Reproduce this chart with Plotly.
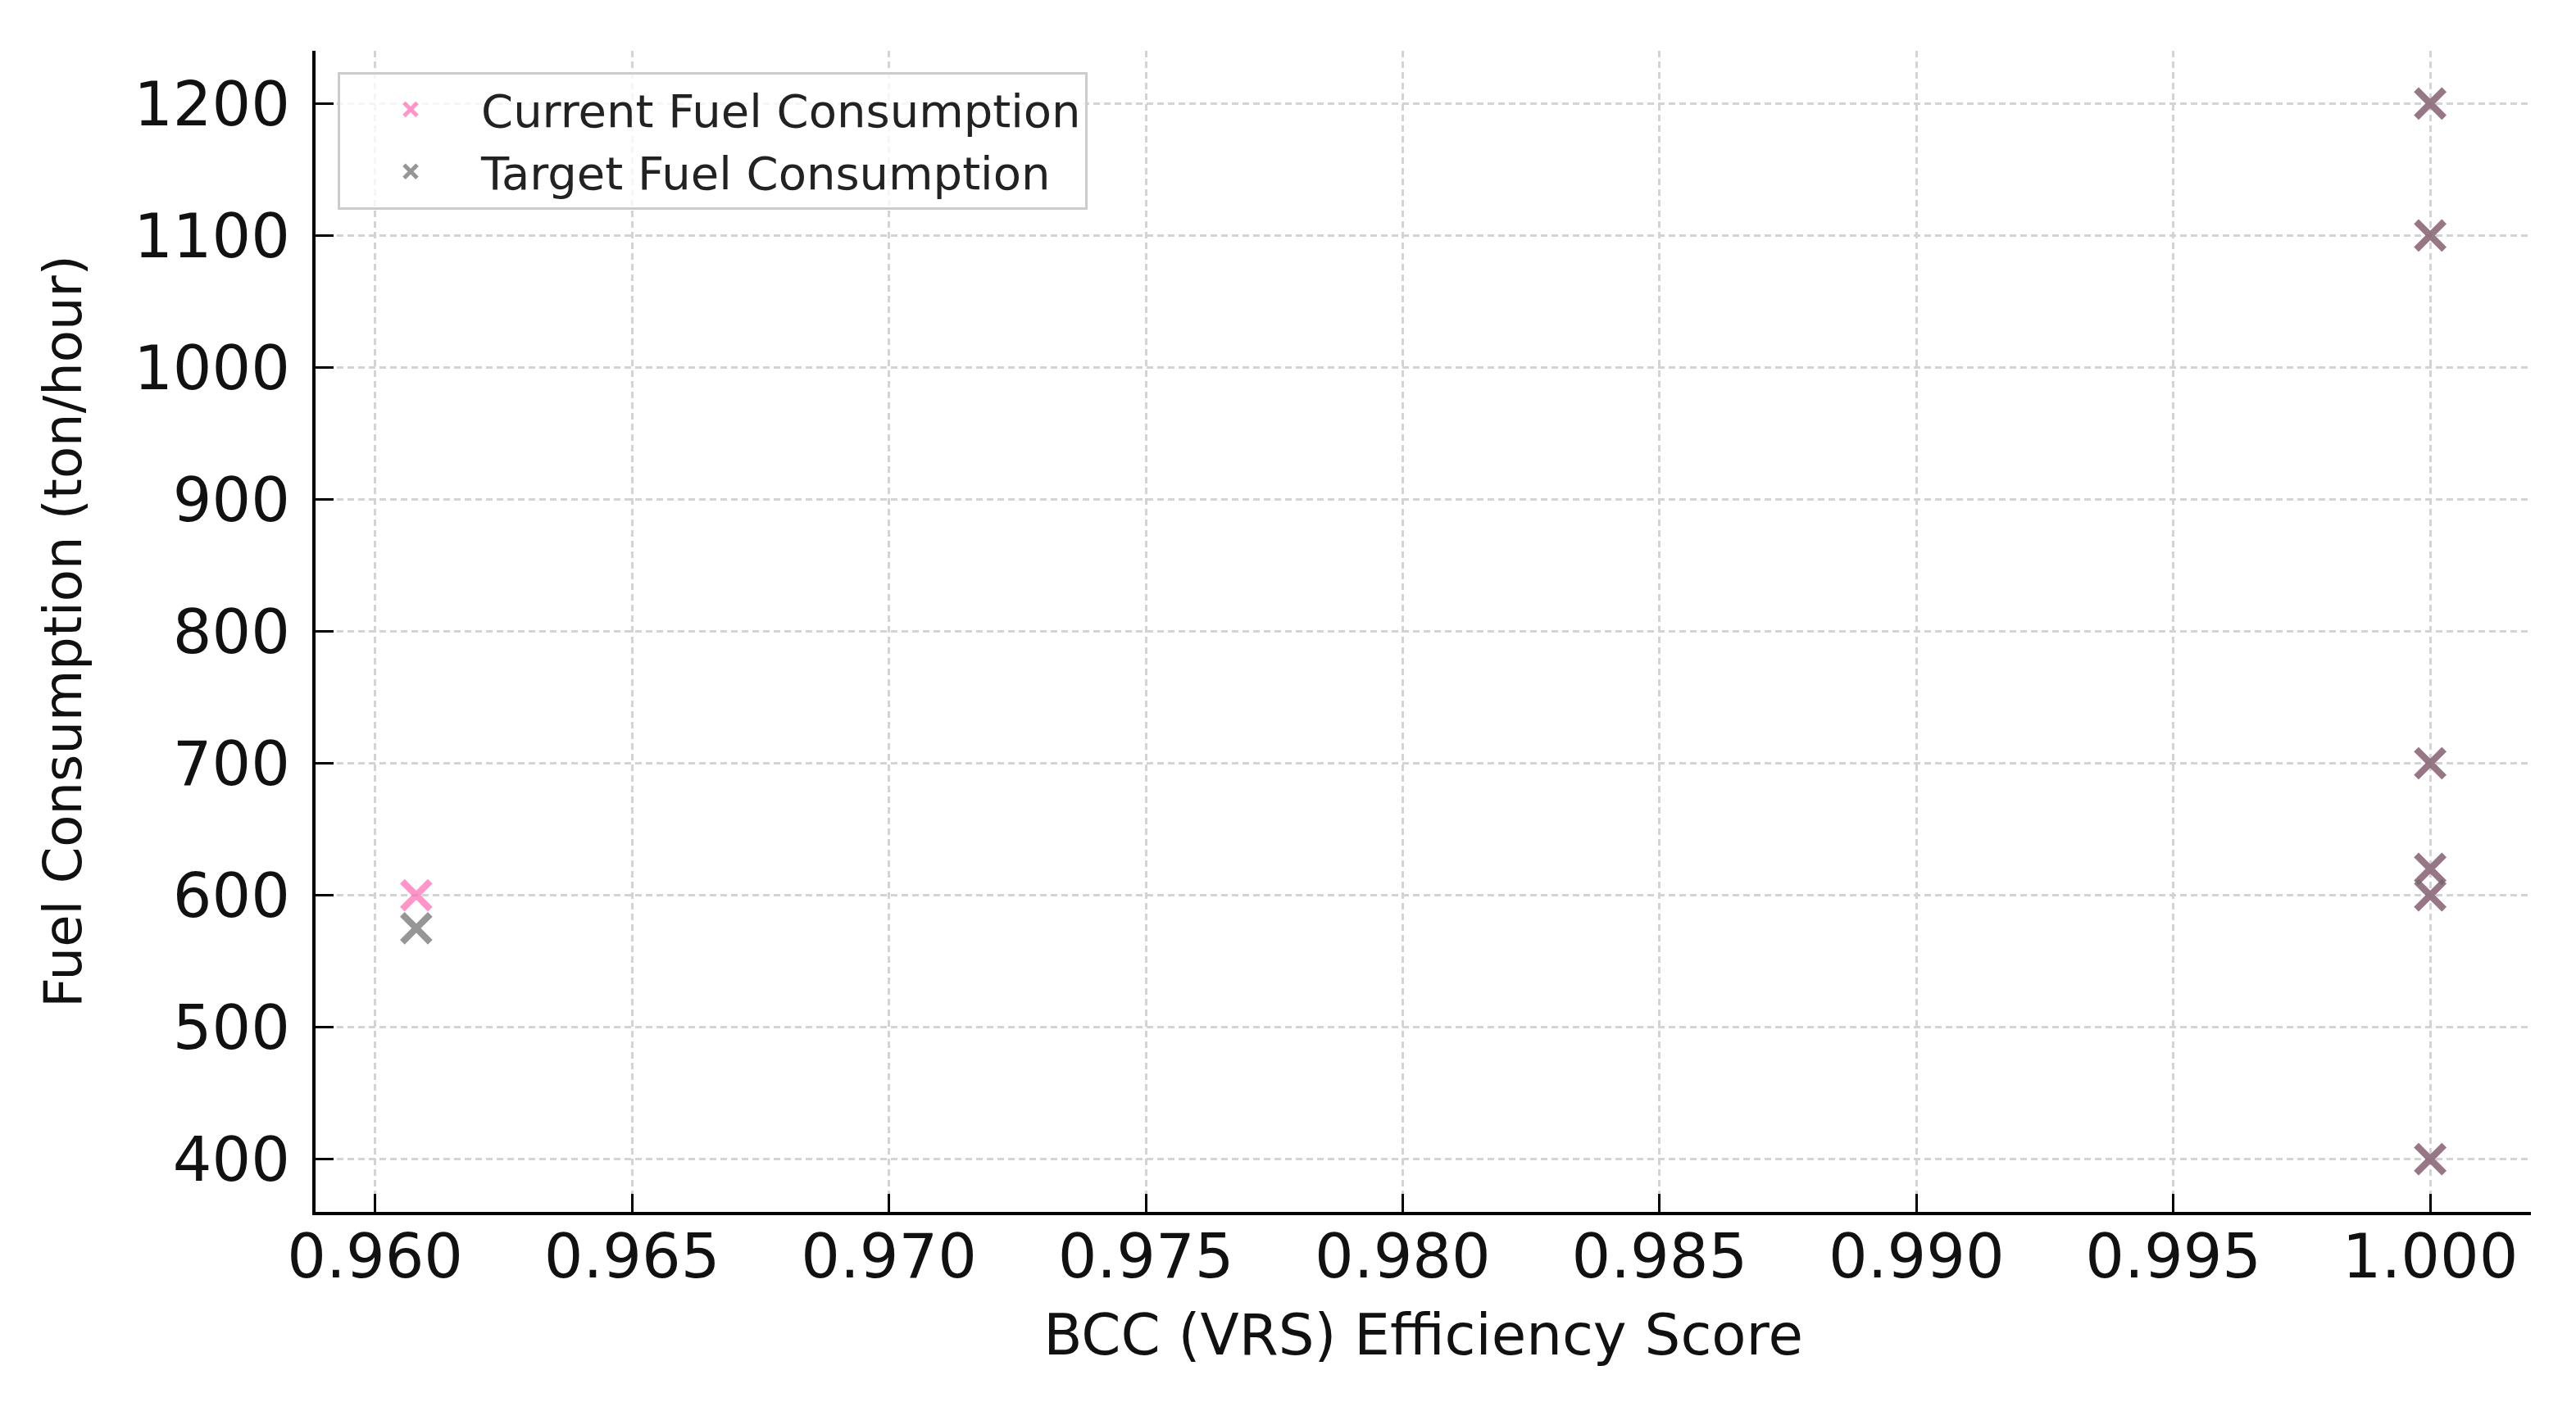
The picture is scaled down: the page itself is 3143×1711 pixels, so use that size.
import plotly.graph_objects as go

# Data
bcc_scores = [0.9608, 1.0, 1.0, 1.0, 1.0, 1.0, 1.0]
current_fuel = [600, 1200, 1100, 700, 620, 600, 400]
target_fuel = [575, 1200, 1100, 700, 620, 600, 400]

x_ticks = [0.960, 0.965, 0.970, 0.975, 0.980, 0.985, 0.990, 0.995, 1.000]
y_ticks = [400, 500, 600, 700, 800, 900, 1000, 1100, 1200]

PINK = "rgba(255,105,180,0.7)"
GRAY = "rgba(105,105,105,0.7)"
FONT = "DejaVu Sans"

fig = go.Figure()
fig.add_trace(go.Scatter(
    x=bcc_scores, y=current_fuel, mode="markers", name="Current Fuel Consumption",
    marker=dict(symbol="x-thin", size=34, color=PINK, line=dict(width=8, color=PINK)),
))
fig.add_trace(go.Scatter(
    x=bcc_scores, y=target_fuel, mode="markers", name="Target Fuel Consumption",
    marker=dict(symbol="x-thin", size=34, color=GRAY, line=dict(width=8, color=GRAY)),
))

grid = dict(showgrid=True, gridcolor="#d3d3d3", gridwidth=2.5, griddash="8px,5px",
            showline=True, linecolor="black", linewidth=4, zeroline=False,
            ticks="inside", ticklen=22, tickwidth=2.5, tickcolor="black",
            tickfont=dict(family=FONT, size=75, color="#111111"))

fig.update_xaxes(range=[0.95884, 1.00196], tickvals=x_ticks, tickformat=".3f",
                 title=dict(text="BCC (VRS) Efficiency Score", font=dict(family=FONT, size=69, color="#111111"),
                            standoff=30),
                 ticklabelstandoff=-14, **grid)
fig.update_yaxes(range=[360, 1240], tickvals=y_ticks,
                 title=dict(text="Fuel Consumption (ton/hour)", font=dict(family=FONT, size=64, color="#111111"),
                            standoff=44),
                 ticklabelstandoff=12, **grid)

fig.update_layout(
    width=3143, height=1711,
    margin=dict(l=377, r=63, t=54, b=240),
    paper_bgcolor="white", plot_bgcolor="white",
    font=dict(family=FONT),
    showlegend=True,
    legend=dict(x=0.010, y=0.982, xanchor="left", yanchor="top",
                bgcolor="rgba(255,255,255,0.8)", bordercolor="#cccccc", borderwidth=3,
                font=dict(family=FONT, size=56, color="#222222"),
                itemsizing="trace", itemwidth=162, tracegroupgap=0),
)

fig.write_html("out.html")
